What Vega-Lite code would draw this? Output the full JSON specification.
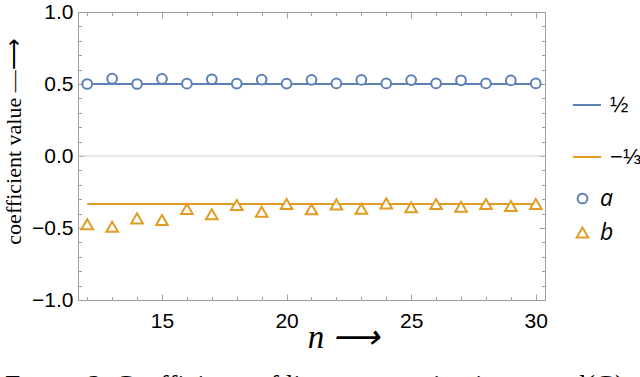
{
  "$schema": "https://vega.github.io/schema/vega-lite/v6.json",
  "width": 467,
  "height": 288,
  "autosize": {"type": "none"},
  "padding": {"left": 78, "top": 12, "right": 95, "bottom": 77},
  "background": "white",
  "config": {
    "view": {"stroke": "#a0a0a0", "strokeWidth": 1},
    "axis": {"grid": false, "domain": false, "tickColor": "#a0a0a0", "tickWidth": 1, "labelColor": "black", "titleColor": "black"}
  },
  "title": {
    "text": "Fɪɢᴜʀᴇ 2. Coefficients of linear regression in\u00a0\u00a0\u00a0\u00a0\u00a0\u00a0\u00a0\u00a0\u00a0\u00a0\u00a0d(G)",
    "orient": "bottom",
    "anchor": "start",
    "frame": "group",
    "font": "Liberation Serif",
    "fontSize": 27.5,
    "fontWeight": "normal",
    "color": "black",
    "baseline": "top",
    "dx": -73,
    "offset": 18
  },
  "datasets": {
    "pts": [
      {"n": 12, "series": "a", "value": 0.500}, {"n": 13, "series": "a", "value": 0.537},
      {"n": 14, "series": "a", "value": 0.500}, {"n": 15, "series": "a", "value": 0.535},
      {"n": 16, "series": "a", "value": 0.502}, {"n": 17, "series": "a", "value": 0.533},
      {"n": 18, "series": "a", "value": 0.503}, {"n": 19, "series": "a", "value": 0.531},
      {"n": 20, "series": "a", "value": 0.503}, {"n": 21, "series": "a", "value": 0.529},
      {"n": 22, "series": "a", "value": 0.504}, {"n": 23, "series": "a", "value": 0.528},
      {"n": 24, "series": "a", "value": 0.504}, {"n": 25, "series": "a", "value": 0.527},
      {"n": 26, "series": "a", "value": 0.504}, {"n": 27, "series": "a", "value": 0.526},
      {"n": 28, "series": "a", "value": 0.504}, {"n": 29, "series": "a", "value": 0.525},
      {"n": 30, "series": "a", "value": 0.504},
      {"n": 12, "series": "b", "value": -0.474}, {"n": 13, "series": "b", "value": -0.491},
      {"n": 14, "series": "b", "value": -0.433}, {"n": 15, "series": "b", "value": -0.444},
      {"n": 16, "series": "b", "value": -0.368}, {"n": 17, "series": "b", "value": -0.405},
      {"n": 18, "series": "b", "value": -0.340}, {"n": 19, "series": "b", "value": -0.387},
      {"n": 20, "series": "b", "value": -0.333}, {"n": 21, "series": "b", "value": -0.370},
      {"n": 22, "series": "b", "value": -0.336}, {"n": 23, "series": "b", "value": -0.366},
      {"n": 24, "series": "b", "value": -0.329}, {"n": 25, "series": "b", "value": -0.356},
      {"n": 26, "series": "b", "value": -0.333}, {"n": 27, "series": "b", "value": -0.352},
      {"n": 28, "series": "b", "value": -0.333}, {"n": 29, "series": "b", "value": -0.347},
      {"n": 30, "series": "b", "value": -0.333}
    ],
    "lines": [
      {"n": 12, "line": "½", "value": 0.5}, {"n": 30, "line": "½", "value": 0.5},
      {"n": 12, "line": "−⅓", "value": -0.33333}, {"n": 30, "line": "−⅓", "value": -0.33333}
    ]
  },
  "layer": [
    {
      "data": {"values": [{"z": 0}]},
      "mark": {"type": "rule", "color": "#cfcfcf", "strokeWidth": 1},
      "encoding": {"y": {"field": "z", "type": "quantitative", "axis": null}}
    },
    {
      "data": {"name": "lines"},
      "mark": {"type": "line", "strokeWidth": 2},
      "encoding": {
        "x": {
          "field": "n", "type": "quantitative",
          "scale": {"domain": [11.63, 30.37], "nice": false, "zero": false},
          "axis": {
            "orient": "bottom",
            "values": [12,13,14,15,16,17,18,19,20,21,22,23,24,25,26,27,28,29,30],
            "labelExpr": "datum.value % 5 === 0 ? datum.label : ''",
            "tickSize": {"condition": {"test": "datum.value % 5 === 0", "value": -6}, "value": -3.5},
            "labelPadding": 16,
            "labelFont": "Liberation Sans",
            "labelFontSize": 21,
            "labelFlush": false,
            "labelOverlap": false,
            "title": "n ⟶",
            "titleFont": "Liberation Serif",
            "titleFontStyle": "italic",
            "titleFontWeight": "normal",
            "titleFontSize": 33,
            "titleX": 265,
            "titleY": 47,
            "titleAlign": "center",
            "titleBaseline": "alphabetic"
          }
        },
        "y": {
          "field": "value", "type": "quantitative",
          "scale": {"domain": [-1, 1], "nice": false, "zero": false},
          "axis": {
            "orient": "left",
            "values": [-1,-0.9,-0.8,-0.7,-0.6,-0.5,-0.4,-0.3,-0.2,-0.1,0,0.1,0.2,0.3,0.4,0.5,0.6,0.7,0.8,0.9,1],
            "format": ".1f",
            "labelExpr": "abs(datum.value*2 - round(datum.value*2)) < 0.001 ? datum.label : ''",
            "tickSize": {"condition": {"test": "abs(datum.value*2 - round(datum.value*2)) < 0.001", "value": -6}, "value": -3.5},
            "labelPadding": 11,
            "labelFont": "Liberation Sans",
            "labelFontSize": 21,
            "labelFlush": false,
            "labelOverlap": false,
            "title": "coefficient value —⟶",
            "titleFont": "Liberation Serif",
            "titleFontWeight": "normal",
            "titleFontSize": 22,
            "titleAngle": -90,
            "titleX": -58,
            "titleY": 129,
            "titleAlign": "center",
            "titleBaseline": "alphabetic"
          }
        },
        "stroke": {
          "field": "line", "type": "nominal",
          "scale": {"domain": ["½", "−⅓"], "range": ["#5E81B5", "#E19C24"]},
          "legend": {
            "orient": "none", "legendX": 494, "legendY": 78, "title": null,
            "symbolType": "stroke", "symbolSize": 784, "symbolStrokeWidth": 2,
            "labelFont": "Liberation Sans", "labelFontSize": 22,
            "labelColor": "black", "labelOffset": 8, "rowPadding": 26, "labelLimit": 200
          }
        }
      }
    },
    {
      "data": {"name": "pts"},
      "mark": {"type": "point", "filled": false, "fill": "white", "strokeWidth": 2, "opacity": 1},
      "encoding": {
        "x": {
          "field": "n", "type": "quantitative",
          "axis": {
            "orient": "top",
            "values": [12,13,14,15,16,17,18,19,20,21,22,23,24,25,26,27,28,29,30],
            "labels": false,
            "tickSize": {"condition": {"test": "datum.value % 5 === 0", "value": -6}, "value": -3.5},
            "title": null
          }
        },
        "y": {
          "field": "value", "type": "quantitative",
          "axis": {
            "orient": "right",
            "values": [-1,-0.9,-0.8,-0.7,-0.6,-0.5,-0.4,-0.3,-0.2,-0.1,0,0.1,0.2,0.3,0.4,0.5,0.6,0.7,0.8,0.9,1],
            "labels": false,
            "tickSize": {"condition": {"test": "abs(datum.value*2 - round(datum.value*2)) < 0.001", "value": -6}, "value": -3.5},
            "title": null
          }
        },
        "color": {
          "field": "series", "type": "nominal",
          "scale": {"domain": ["a", "b"], "range": ["#5E81B5", "#E19C24"]},
          "legend": {
            "orient": "none", "legendX": 493, "legendY": 175, "title": null,
            "symbolSize": 56, "symbolStrokeWidth": 2, "symbolFillColor": "white",
            "labelFont": "Open Sans", "labelFontStyle": "italic", "labelFontSize": 23,
            "labelColor": "black", "labelOffset": 6, "rowPadding": 10
          }
        },
        "shape": {
          "field": "series", "type": "nominal",
          "scale": {"domain": ["a", "b"], "range": ["circle", "triangle-up"]}
        },
        "size": {
          "field": "series", "type": "nominal",
          "scale": {"domain": ["a", "b"], "range": [95, 135]},
          "legend": null
        }
      }
    }
  ],
  "resolve": {"axis": {"x": "independent", "y": "independent"}}
}
